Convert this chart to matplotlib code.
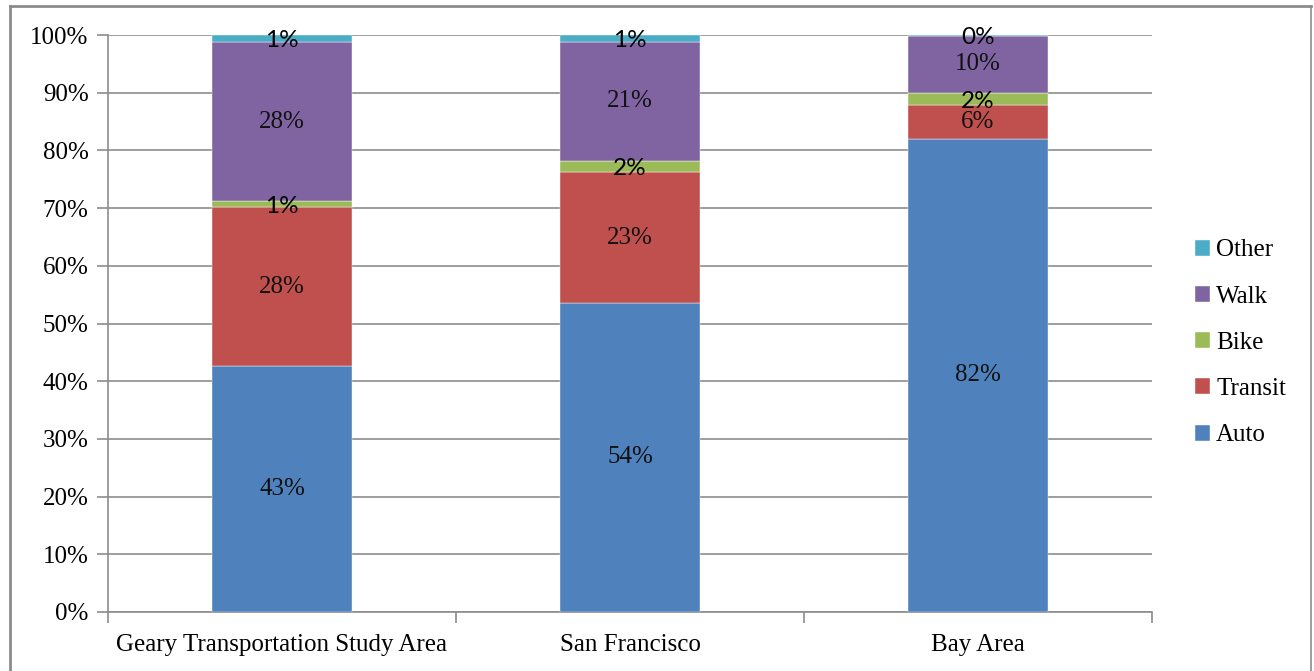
import matplotlib
matplotlib.use("Agg")
import matplotlib.pyplot as plt
from matplotlib.lines import Line2D
import numpy as np

categories = ["Geary Transportation Study Area", "San Francisco", "Bay Area"]
series_names = ["Auto", "Transit", "Bike", "Walk", "Other"]
auto = [42.6, 53.6, 82.0]
transit = [27.6, 22.6, 5.9]
bike = [1.0, 2.0, 2.1]
walk = [27.6, 20.6, 9.9]
other = [1.2, 1.2, 0.1]
colors = ["#4F81BD", "#C0504D", "#9BBB59", "#8064A2", "#4BACC6"]
yticks = [0, 10, 20, 30, 40, 50, 60, 70, 80, 90, 100]

serif = "Liberation Serif"
sans = "Lato"

fig = plt.figure(figsize=(13.14, 6.71), dpi=100)
ax = fig.add_axes([108/1314, 1-612/671, (1152-108)/1314, (612-35)/671])

x = np.arange(len(categories))
data = [auto, transit, bike, walk, other]
bottom = np.zeros(len(categories))
small_series = {"Bike", "Other"}
for name, vals, c in zip(series_names, data, colors):
    vals = np.array(vals)
    ax.bar(x, vals, width=0.4, bottom=bottom, color=c, label=name, zorder=3,
           edgecolor="white", linewidth=0.3)
    for xi, b, v in zip(x, bottom, vals):
        txt = f"{v:.0f}%"
        if name in small_series:
            ax.text(xi, b + v/2 - 0.4, txt, ha="center", va="center", fontsize=17.5,
                    family=sans, color="black", zorder=5)
        else:
            ax.text(xi, b + v/2, txt, ha="center", va="center", fontsize=18,
                    family=serif, color="#111111", zorder=5)
    bottom += vals

ax.set_xlim(-0.5, 2.5)
ax.set_ylim(0, 100)
ax.set_yticks(yticks)
ax.set_yticklabels([f"{t}%" for t in yticks], family=serif, fontsize=18)
ax.yaxis.grid(True, color="#8C8C8C", linewidth=1.2, zorder=0)
ax.set_axisbelow(True)

ax.set_xticks(x)
ax.set_xticklabels(categories, family=serif, fontsize=18)
ax.set_xticks([-0.5, 0.5, 1.5, 2.5], minor=True)
ax.tick_params(axis="x", which="major", length=0, pad=16)
ax.tick_params(axis="x", which="minor", length=8, width=1.2, color="#8C8C8C", direction="out")
ax.tick_params(axis="y", length=8, width=1.2, color="#8C8C8C", direction="out", pad=6)

for s in ["top", "right"]:
    ax.spines[s].set_visible(False)
for s in ["left", "bottom"]:
    ax.spines[s].set_color("#8C8C8C")
    ax.spines[s].set_linewidth(1.2)

handles, labels = ax.get_legend_handles_labels()
leg = fig.legend(handles[::-1], labels[::-1], loc="center left",
                 bbox_to_anchor=(1195/1314, 1-343/671), frameon=False,
                 prop={"family": serif, "size": 18}, handlelength=0.6,
                 handleheight=0.6, handletextpad=0.25, labelspacing=0.97,
                 borderpad=0, borderaxespad=0)

# figure border (left, top, right)
bc = "#8C8C8C"
fig.add_artist(Line2D([10/1314, 10/1314], [0, 1-6/671], color=bc, lw=2, transform=fig.transFigure))
fig.add_artist(Line2D([10/1314, 1311/1314], [1-6/671, 1-6/671], color=bc, lw=2, transform=fig.transFigure))
fig.add_artist(Line2D([1311/1314, 1311/1314], [0, 1-6/671], color=bc, lw=1.2, transform=fig.transFigure))

fig.savefig("out.png", dpi=100)
